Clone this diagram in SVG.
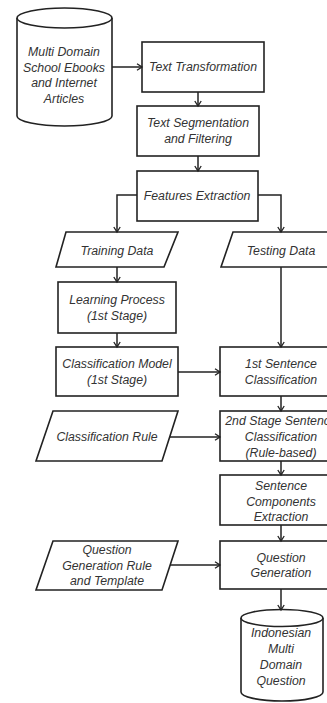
<svg xmlns="http://www.w3.org/2000/svg" width="327" height="703" viewBox="0 0 327 703">
  <style>
    .shape { fill: #ffffff; stroke: #222222; stroke-width: 1.6; }
    .label { font-family: "Liberation Sans", Arial, sans-serif; font-style: italic; font-size: 12.3px; fill: #333333; text-anchor: middle; }
    .conn { fill: none; stroke: #222222; stroke-width: 1.5; marker-end: url(#arrow); }
  </style>
  <defs>
    <marker id="arrow" markerWidth="8" markerHeight="8" refX="6" refY="4" orient="auto" markerUnits="userSpaceOnUse">
      <path d="M1,0.8 L6,4 L1,7.2" fill="none" stroke="#222222" stroke-width="1.3"/>
    </marker>
  </defs>
  <rect width="327" height="703" fill="#ffffff"/>

  <!-- source data store -->
  <g id="source-db">
    <path class="shape" d="M17,18 L17,116 A47.5,10 0 0 0 112,116 L112,18"/>
    <ellipse class="shape" cx="64.5" cy="18" rx="47.5" ry="10"/>
    <text class="label" x="64" y="56">Multi Domain</text>
    <text class="label" x="64" y="71.5">School Ebooks</text>
    <text class="label" x="64" y="87">and Internet</text>
    <text class="label" x="64" y="102.5">Articles</text>
  </g>

  <g id="text-transformation">
    <rect class="shape" x="142" y="42" width="122" height="50"/>
    <text class="label" x="203" y="71">Text Transformation</text>
  </g>

  <g id="text-segmentation">
    <rect class="shape" x="137" y="106" width="122" height="50"/>
    <text class="label" x="198" y="127">Text Segmentation</text>
    <text class="label" x="198" y="143">and Filtering</text>
  </g>

  <g id="features-extraction">
    <rect class="shape" x="137" y="171" width="121" height="50"/>
    <text class="label" x="197" y="200">Features Extraction</text>
  </g>

  <g id="training-data">
    <polygon class="shape" points="66,232 178,232 164,267 56,267"/>
    <text class="label" x="117" y="255">Training Data</text>
  </g>

  <g id="testing-data">
    <polygon class="shape" points="233,232 345,232 332,267 221,267"/>
    <text class="label" x="281" y="255">Testing Data</text>
  </g>

  <g id="learning-process">
    <rect class="shape" x="58" y="282" width="118" height="51"/>
    <text class="label" x="117" y="304">Learning Process</text>
    <text class="label" x="117" y="320">(1st Stage)</text>
  </g>

  <g id="classification-model">
    <rect class="shape" x="56" y="347" width="122" height="49"/>
    <text class="label" x="117" y="368">Classification Model</text>
    <text class="label" x="117" y="384">(1st Stage)</text>
  </g>

  <g id="first-classification">
    <rect class="shape" x="220" y="347" width="122" height="49"/>
    <text class="label" x="281" y="368">1st Sentence</text>
    <text class="label" x="281" y="384">Classification</text>
  </g>

  <g id="classification-rule">
    <polygon class="shape" points="53,411 178,411 162,461 36,461"/>
    <text class="label" x="107" y="441">Classification Rule</text>
  </g>

  <g id="second-classification">
    <rect class="shape" x="220" y="411" width="122" height="50"/>
    <text class="label" x="281" y="425">2nd Stage Sentence</text>
    <text class="label" x="281" y="441">Classification</text>
    <text class="label" x="281" y="457">(Rule-based)</text>
  </g>

  <g id="components-extraction">
    <rect class="shape" x="220" y="475" width="122" height="50"/>
    <text class="label" x="281" y="490">Sentence</text>
    <text class="label" x="281" y="505.5">Components</text>
    <text class="label" x="281" y="521">Extraction</text>
  </g>

  <g id="generation-rule">
    <polygon class="shape" points="53,541 178,541 162,590 36,590"/>
    <text class="label" x="107" y="554">Question</text>
    <text class="label" x="107" y="570">Generation Rule</text>
    <text class="label" x="107" y="585">and Template</text>
  </g>

  <g id="question-generation">
    <rect class="shape" x="220" y="541" width="122" height="48"/>
    <text class="label" x="281" y="562">Question</text>
    <text class="label" x="281" y="577">Generation</text>
  </g>

  <!-- output data store -->
  <g id="question-db">
    <path class="shape" d="M241,618 L241,692 A41,9 0 0 0 323,692 L323,618"/>
    <ellipse class="shape" cx="282" cy="618" rx="41" ry="8.5"/>
    <text class="label" x="281" y="637">Indonesian</text>
    <text class="label" x="281" y="652.5">Multi</text>
    <text class="label" x="281" y="669">Domain</text>
    <text class="label" x="281" y="685">Question</text>
  </g>

  <g id="connectors">
    <path class="conn" d="M112,67 L142,67"/>
    <path class="conn" d="M198,92 L198,106"/>
    <path class="conn" d="M198,156 L198,171"/>
    <path class="conn" d="M137,195 L117,195 L117,232"/>
    <path class="conn" d="M258,195 L281,195 L281,232"/>
    <path class="conn" d="M117,267 L117,282"/>
    <path class="conn" d="M281,267 L281,347"/>
    <path class="conn" d="M117,333 L117,347"/>
    <path class="conn" d="M178,372 L220,372"/>
    <path class="conn" d="M281,396 L281,411"/>
    <path class="conn" d="M170,437 L220,437"/>
    <path class="conn" d="M281,461 L281,475"/>
    <path class="conn" d="M281,525 L281,541"/>
    <path class="conn" d="M170,565 L220,565"/>
    <path class="conn" d="M281,589 L281,610"/>
  </g>
</svg>
